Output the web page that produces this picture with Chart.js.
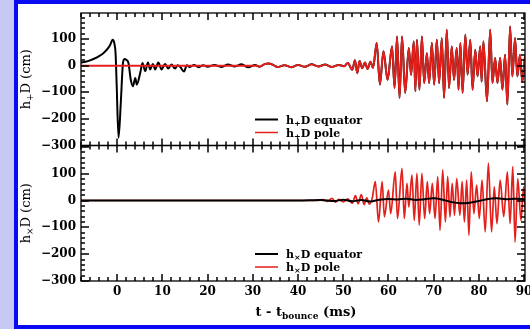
<!DOCTYPE html>
<html>
<head>
<meta charset="utf-8">
<script src="https://cdn.jsdelivr.net/npm/chart.js@4.4.0/dist/chart.umd.min.js"></script>
<style>
  html, body { margin: 0; padding: 0; }
  body { width: 530px; height: 329px; overflow: hidden; background: #c8c8f4; position: relative; }
  #frame { position: absolute; left: 14px; top: 0; width: 530px; height: 321px; border: 4px solid #0a0af0; background: #fff; }
  .panel { position: absolute; left: 18px; width: 512px; }
  #topBox { top: 4px; height: 160px; }
  #botBox { top: 140px; height: 185px; }
</style>
</head>
<body>
<div id="frame"></div>
<div class="panel" id="botBox"><canvas id="botChart"></canvas></div>
<div class="panel" id="topBox"><canvas id="topChart"></canvas></div>
<script>
// h+ : equator before ~31 ms (pole is flat there)
const tPlusEqEarly = [-8, -7, -6, -5, -4, -3, -2, -1.5, -1.0, -0.6, -0.35, -0.1, 0.3, 0.8, 1.25, 1.6, 2.0, 2.5, 3.0, 3.5, 4.0, 4.35, 5.1, 5.6, 6.2, 6.8, 7.3, 7.9, 8.4, 9.1, 9.8, 10.6, 11.3, 12.0, 12.8, 13.4, 14.0, 14.8, 15.4, 16.0, 17.0, 18.0, 19.0, 20.0, 21.5, 23.0, 24.5, 26.0, 27.5, 29.0, 30.5];
const hPlusEqEarly = [12, 15, 20, 27, 36, 48, 66, 80, 97, 82, 45, -77, -271, -140, 4, 25, 22, 10, -52, -77, -46, -71, -27, 10, -21, 12, -14, 6, -14, 12, -14, 6, -11, 4, -11, 2, -6, -22, 2, -5, 3, -6, 2, -4, 3, -5, 4, -3, 5, -6, 3];
const tPlusPoleEarly = [-8, 31];
const hPlusPoleEarly = [0, 0];
// h+ after ~31 ms, both observers see the same signal
const tPlusLate = [31.5, 32.5, 33.5, 34.5, 35.5, 37, 38.5, 40, 41.5, 43, 44.5, 46, 47.5, 49, 50.2, 51, 52, 52.6, 53.1, 53.6, 54.2, 54.8, 55.4, 56.0, 56.6, 57.4, 58.1, 58.9, 59.8, 60.8, 61.35, 61.9, 62.45, 63.0, 63.7, 64.5, 65.0, 65.6, 65.95, 66.3, 66.85, 67.4, 67.9, 68.5, 69.0, 69.6, 70.1, 70.7, 71.2, 71.8, 72.3, 72.9, 73.4, 74.0, 74.5, 75.1, 75.5, 75.9, 76.4, 77.0, 77.5, 78.1, 78.6, 79.2, 79.7, 80.3, 80.6, 81.0, 81.8, 82.5, 83.0, 83.6, 84.1, 84.7, 85.2, 85.8, 86.3, 86.9, 87.4, 88.0, 88.5, 89.1, 89.6, 90.2];
const hPlusLate = [-4, 5, 8, 3, -5, 2, -6, 3, -4, 5, -3, 4, -5, 3, -2, 10, -15, 20, -28, 18, -10, 12, -12, 15, -8, 85, -71, 54, -53, 72, -84, 110, -121, 110, -102, 66, -34, 91, -96, 97, -90, 110, -65, 47, -65, 85, -71, 97, -65, 103, -121, 135, -84, 72, -53, 66, -90, 85, -102, 116, -34, 97, -90, 60, -40, 72, -60, 91, -134, 135, -65, 29, -65, 29, -90, 41, -146, 147, -40, 103, -40, 41, -60, 35];

// hx
const tCrossPole = [-8, 44, 45.5, 46.5, 47.5, 48.3, 49, 50, 51, 52, 52.7, 53.3, 54, 54.6, 55.2, 55.8, 56.4, 57.1, 57.8, 58.6, 59.1, 60.0, 60.5, 61.5, 62.0, 63.0, 63.5, 64.1, 64.5, 65.2, 65.7, 66.3, 66.8, 67.4, 68.0, 68.6, 69.1, 69.7, 70.3, 70.9, 71.4, 72.0, 72.6, 73.1, 73.6, 74.1, 74.6, 75.1, 75.8, 76.3, 76.8, 77.3, 77.8, 78.3, 78.9, 79.5, 80.1, 80.7, 81.4, 82.1, 82.8, 83.4, 84.0, 84.7, 85.5, 86.3, 86.9, 87.5, 88.0, 88.6, 89.3, 89.9, 90.3];
const hCrossPole = [0, 0, 3, -3, 8, -6, 4, -5, 6, -10, 18, -12, 22, -15, 10, -14, 8, 70, -80, 70, -61, 39, -49, 107, -67, 120, -67, 64, -24, 95, -74, 101, -92, 101, -67, 70, -49, 64, -67, 89, -111, 114, -80, 89, -61, 64, -55, 82, -55, 70, -80, 76, -130, 107, -49, 57, -67, 76, -117, 139, -117, 51, -86, 76, -60, 107, -86, 126, -155, 82, -74, 51, -40];
const tCrossEq = [-8, 40, 45, 48, 50, 52, 54, 56, 58, 60, 62, 64, 66, 68, 70, 72, 74, 76, 78, 80, 82, 84, 86, 88, 90.3];
const hCrossEq = [0, 0, 2, -2, 3, -3, 2, -4, 3, 6, 4, 7, 2, 5, 8, 3, -6, -10, -8, -2, 6, 8, 5, 7, 4];

const yTicks = [-300, -200, -100, 0, 100];
const xTicks = [0, 10, 20, 30, 40, 50, 60, 70, 80, 90];

const RED = '#e3201b';
const tickFont = { family: 'DejaVu Serif', weight: 'bold', size: 12 };

const pts = (ts, vs) => ts.map((t, i) => ({ x: t, y: vs[i] }));

// draw a run of text pieces (main / subscript) left to right
function drawParts(ctx, x, y, parts) {
  for (const p of parts) {
    ctx.font = p.font;
    ctx.fillText(p.text, x, y + (p.dy || 0));
    x += ctx.measureText(p.text).width;
  }
  return x;
}
function partsWidth(ctx, parts) {
  let w = 0;
  for (const p of parts) { ctx.font = p.font; w += ctx.measureText(p.text).width; }
  return w;
}

const panelPlugin = {
  id: 'panel',
  afterDraw(chart, args, o) {
    const { ctx, chartArea: a, scales: { x, y } } = chart;
    ctx.save();
    ctx.strokeStyle = '#000';
    ctx.fillStyle = '#000';
    ctx.lineWidth = 1.5;
    ctx.beginPath();
    // inward ticks: x every 2 ms, y every 20 cm
    for (let t = -8; t <= 90.2; t += 2) {
      const px = Math.round(x.getPixelForValue(t));
      const len = t % 10 === 0 ? 7 : 4;
      ctx.moveTo(px, a.top); ctx.lineTo(px, a.top + len);
      ctx.moveTo(px, a.bottom); ctx.lineTo(px, a.bottom - len);
    }
    for (let v = -300; v <= y.max; v += 20) {
      const py = Math.round(y.getPixelForValue(v));
      const len = v % 100 === 0 ? 8 : 4;
      ctx.moveTo(a.left, py); ctx.lineTo(a.left + len, py);
      ctx.moveTo(a.right, py); ctx.lineTo(a.right - len, py);
    }
    ctx.stroke();
    ctx.lineWidth = 1.3;
    ctx.strokeRect(a.left, a.top, a.right - a.left, a.bottom - a.top);

    // legend
    const lf = 'bold 11px "DejaVu Serif"', sf = 'bold 8px "DejaVu Serif"';
    const rows = [
      { color: '#000', width: 2, label: 'equator', y: a.bottom - o.legendGap },
      { color: RED, width: 1.5, label: 'pole', y: a.bottom - o.legendGap + 13 }
    ];
    for (const r of rows) {
      ctx.strokeStyle = r.color;
      ctx.lineWidth = r.width;
      ctx.beginPath();
      ctx.moveTo(237, r.y); ctx.lineTo(260, r.y);
      ctx.stroke();
      drawParts(ctx, 268, r.y + 4, [
        { text: 'h', font: lf },
        { text: o.sub, font: sf, dy: 2 },
        { text: 'D ' + r.label, font: lf }
      ]);
    }

    // rotated y title
    const yt = [
      { text: 'h', font: '13px "DejaVu Serif"' },
      { text: o.sub, font: '9px "DejaVu Serif"', dy: 3 },
      { text: 'D (cm)', font: '13px "DejaVu Serif"' }
    ];
    ctx.save();
    ctx.translate(12, (a.top + a.bottom) / 2);
    ctx.rotate(-Math.PI / 2);
    drawParts(ctx, -partsWidth(ctx, yt) / 2, 0, yt);
    ctx.restore();

    if (o.xTitle) {
      const xt = [
        { text: 't - t', font: 'bold 13px "DejaVu Serif"' },
        { text: 'bounce', font: 'bold 9px "DejaVu Serif"', dy: 3 },
        { text: ' (ms)', font: 'bold 13px "DejaVu Serif"' }
      ];
      drawParts(ctx, 288 - partsWidth(ctx, xt) / 2, a.bottom + 35, xt);
    }
    ctx.restore();
  }
};

function yScale(max) {
  return {
    type: 'linear',
    min: -300,
    max: max,
    grid: { display: false, drawTicks: false },
    border: { display: false },
    afterBuildTicks: s => { s.ticks = yTicks.map(v => ({ value: v })); },
    ticks: {
      padding: 5,
      color: '#000',
      font: tickFont,
      callback: v => String(v).replace('-', '\u2212')
    },
    afterFit(s) { s.width = 63; s.paddingTop = 0; s.paddingBottom = 0; }
  };
}

function line(data, color, width, order) {
  return {
    data: data,
    borderColor: color,
    borderWidth: width,
    pointRadius: 0,
    cubicInterpolationMode: 'monotone',
    order: order
  };
}

const common = {
  responsive: true,
  maintainAspectRatio: false,
  devicePixelRatio: 1,
  animation: false,
  events: [],
  plugins: { legend: { display: false }, tooltip: { enabled: false } }
};

new Chart(document.getElementById('topChart'), {
  type: 'line',
  data: {
    datasets: [
      line(pts(tPlusEqEarly, hPlusEqEarly).concat(pts(tPlusLate, hPlusLate)), '#000', 2, 2),
      line(pts(tPlusPoleEarly, hPlusPoleEarly).concat(pts(tPlusLate, hPlusLate)), RED, 1.9, 1)
    ]
  },
  options: Object.assign({}, common, {
    layout: { padding: { top: 9, right: 5, bottom: 18.5, left: 0 } },
    scales: {
      x: { type: 'linear', min: -8, max: 90.2, display: false },
      y: yScale(198)
    },
    plugins: Object.assign({}, common.plugins, { panel: { sub: '+', legendGap: 26, xTitle: false } })
  }),
  plugins: [panelPlugin]
});

new Chart(document.getElementById('botChart'), {
  type: 'line',
  data: {
    datasets: [
      line(pts(tCrossEq, hCrossEq), '#000', 2, 1),
      line(pts(tCrossPole, hCrossPole), RED, 1.7, 2)
    ]
  },
  options: Object.assign({}, common, {
    layout: { padding: { top: 5.5, right: 5, bottom: 0, left: 0 } },
    scales: {
      x: {
        type: 'linear', min: -8, max: 90.2,
        grid: { display: false, drawTicks: false },
        border: { display: false },
        afterBuildTicks: s => { s.ticks = xTicks.map(v => ({ value: v })); },
        ticks: { padding: 4, color: '#000', font: tickFont, maxRotation: 0 },
        afterFit(s) { s.height = 44; s.paddingLeft = 0; s.paddingRight = 0; }
      },
      y: yScale(205)
    },
    plugins: Object.assign({}, common.plugins, { panel: { sub: '\u00d7', legendGap: 27, xTitle: true } })
  }),
  plugins: [panelPlugin]
});
</script>
</body>
</html>
